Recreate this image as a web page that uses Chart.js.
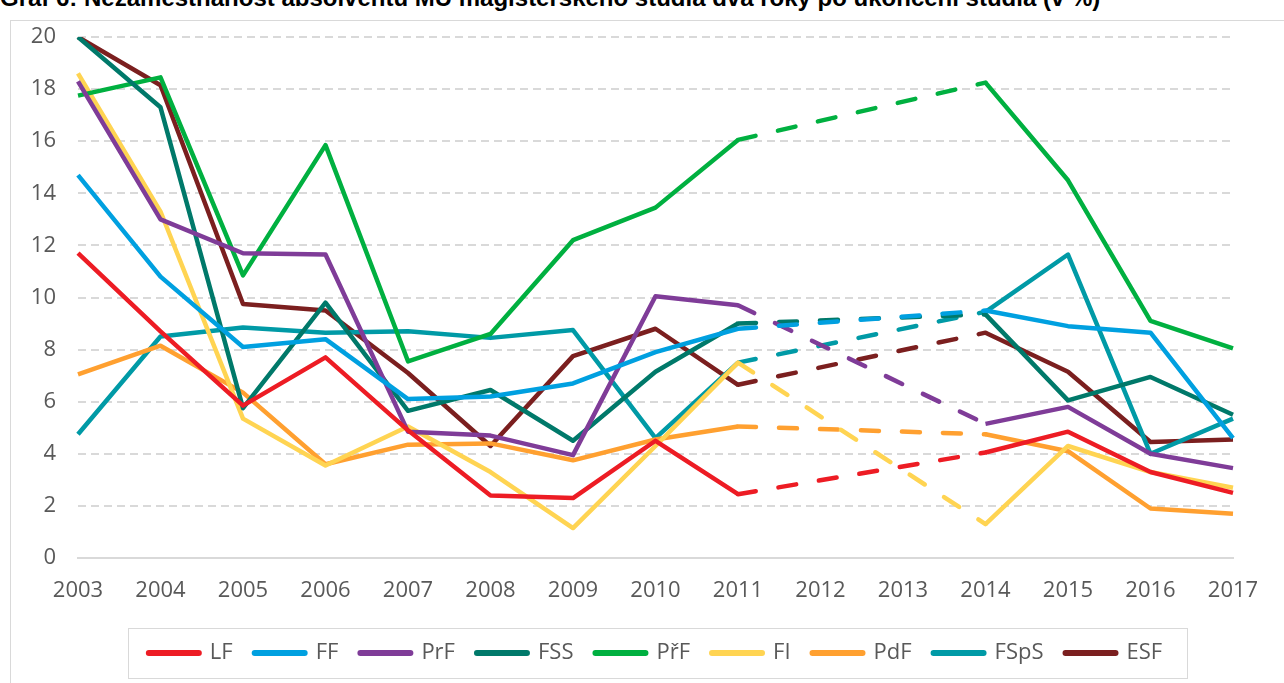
<!DOCTYPE html>
<html lang="cs">
<head>
  <meta charset="UTF-8">
  <title>Nezaměstnanost absolventů</title>
  <script src="https://cdn.jsdelivr.net/npm/chart.js"></script>
  <style>
    body { margin: 0; background: #fff; overflow: hidden; }
    #frame { position: absolute; left: 10px; top: 20px; width: 1300px; height: 700px; border: 1px solid #d9d9d9; }
    #title { position: absolute; left: 0; top: -14px; white-space: nowrap; font: bold 24px/24px "Liberation Sans", Arial, sans-serif; color: #000; }
    #chart { position: absolute; left: 0; top: 0; }
  </style>
</head>
<body>
  <div id="frame"></div>
  <div id="title">Graf 6: Nezaměstnanost absolventů MU magisterského studia dva roky po ukončení studia (v %)</div>
  <canvas id="chart" width="1284" height="683"></canvas>

  <script>
    const years = ['2003', '2004', '2005', '2006', '2007', '2008', '2009', '2010', '2011', '2012', '2013', '2014', '2015', '2016', '2017'];
    const yTicks = [0, 2, 4, 6, 8, 10, 12, 14, 16, 18, 20];

    // 2012 and 2013 are missing (null) -> drawn as dashed bridge
    const LF   = [11.7, 8.7, 5.85, 7.7, 4.9, 2.4, 2.3, 4.5, 2.45, null, null, 4.05, 4.85, 3.3, 2.5];
    const FF   = [14.7, 10.8, 8.1, 8.4, 6.1, 6.2, 6.7, 7.9, 8.8, null, null, 9.5, 8.9, 8.65, 4.6];
    const PrF  = [18.3, 13.0, 11.7, 11.65, 4.85, 4.7, 3.95, 10.05, 9.7, null, null, 5.15, 5.8, 4.0, 3.45];
    const FSS  = [20.0, 17.3, 5.75, 9.8, 5.65, 6.45, 4.5, 7.15, 9.0, null, null, 9.35, 6.05, 6.95, 5.5];
    const PrirF = [17.75, 18.45, 10.85, 15.85, 7.55, 8.6, 12.2, 13.45, 16.05, null, null, 18.25, 14.5, 9.1, 8.05];
    const FI   = [18.6, 13.3, 5.35, 3.55, 5.05, 3.3, 1.15, 4.3, 7.5, null, null, 1.3, 4.3, 3.3, 2.7];
    const PdF  = [7.05, 8.15, 6.35, 3.6, 4.35, 4.4, 3.75, 4.55, 5.05, null, null, 4.75, 4.1, 1.9, 1.7];
    const FSpS = [4.75, 8.5, 8.85, 8.65, 8.7, 8.45, 8.75, 4.6, 7.5, null, null, 9.45, 11.65, 4.0, 5.35];
    const ESF  = [20.0, 18.15, 9.75, 9.5, 7.1, 4.3, 7.75, 8.8, 6.65, null, null, 8.65, 7.15, 4.45, 4.55];

    const series = [
      ['LF', LF, '#ed1c24'],
      ['FF', FF, '#00a0e0'],
      ['PrF', PrF, '#7f3c98'],
      ['FSS', FSS, '#00796a'],
      ['PřF', PrirF, '#00b040'],
      ['FI', FI, '#ffd452'],
      ['PdF', PdF, '#ffa030'],
      ['FSpS', FSpS, '#009aa6'],
      ['ESF', ESF, '#7b1f1f']
    ];

    const fontFam = '"Open Sans", "Noto Sans", sans-serif';

    // segment crosses the missing years?
    function isGap(ctx) {
      const vals = ctx.chart.data.datasets[ctx.datasetIndex].data;
      return ctx.p0.skip || ctx.p1.skip || vals[ctx.p0DataIndex] == null || vals[ctx.p1DataIndex] == null;
    }

    // box round the legend, like the Excel one
    const legendBox = {
      id: 'legendBox',
      afterDraw(chart) {
        const boxes = chart.legend.legendHitBoxes;
        if (!boxes || !boxes.length) return;
        const left = Math.min(...boxes.map(b => b.left)) - 21;
        const right = Math.max(...boxes.map(b => b.left + b.width)) + 25;
        const mid = boxes[0].top + boxes[0].height / 2;
        const ctx = chart.ctx;
        ctx.save();
        ctx.strokeStyle = '#d9d9d9';
        ctx.lineWidth = 1;
        ctx.strokeRect(Math.round(left) + 0.5, Math.round(mid - 25) + 0.5, Math.round(right - left), 50);
        ctx.restore();
      }
    };

    new Chart(document.getElementById('chart'), {
      type: 'line',
      data: {
        labels: years,
        datasets: series.map(([name, values, color]) => ({
          label: name,
          data: values,
          borderColor: color,
          backgroundColor: color,
          borderWidth: 4.5,
          pointRadius: 0,
          pointHoverRadius: 0,
          tension: 0,
          spanGaps: true,
          borderJoinStyle: 'round',
          segment: {
            borderDash: ctx => (isGap(ctx) ? [18, 23] : undefined),
            borderCapStyle: ctx => (isGap(ctx) ? 'round' : undefined)
          }
        }))
      },
      options: {
        responsive: false,
        animation: false,
        events: [],
        layout: { padding: { left: 0, right: 51, top: 37, bottom: 9 } },
        scales: {
          x: {
            offset: false,
            grid: { display: false },
            border: { display: true, color: '#d9d9d9', width: 2 },
            ticks: { color: '#595959', font: { family: fontFam, size: 22 }, maxRotation: 0, autoSkip: false, padding: 12 },
            afterFit: s => { s.height = 62; }
          },
          y: {
            min: 0,
            max: 20,
            afterBuildTicks: s => { s.ticks = yTicks.map(v => ({ value: v })); },
            grid: { color: c => (c.tick && c.tick.value === 0 ? 'rgba(0,0,0,0)' : '#d9d9d9'), lineWidth: 2, drawTicks: false },
            border: { display: false, dash: [8, 5] },
            ticks: { color: '#595959', font: { family: fontFam, size: 22 }, padding: 22 },
            afterFit: s => { s.width = 78; }
          }
        },
        plugins: {
          legend: {
            position: 'bottom',
            fullSize: false,
            labels: {
              usePointStyle: true,
              pointStyle: 'line',
              pointStyleWidth: 50,
              boxWidth: 50,
              boxHeight: 6,
              padding: 22,
              color: '#595959',
              font: { family: fontFam, size: 22 },
              generateLabels: chart => chart.data.datasets.map((d, i) => ({
                text: d.label,
                strokeStyle: d.borderColor,
                fillStyle: d.borderColor,
                lineWidth: 6,
                lineCap: 'round',
                pointStyle: 'line',
                fontColor: '#595959',
                datasetIndex: i
              }))
            }
          },
          tooltip: { enabled: false }
        }
      },
      plugins: [legendBox]
    });
  </script>
</body>
</html>
